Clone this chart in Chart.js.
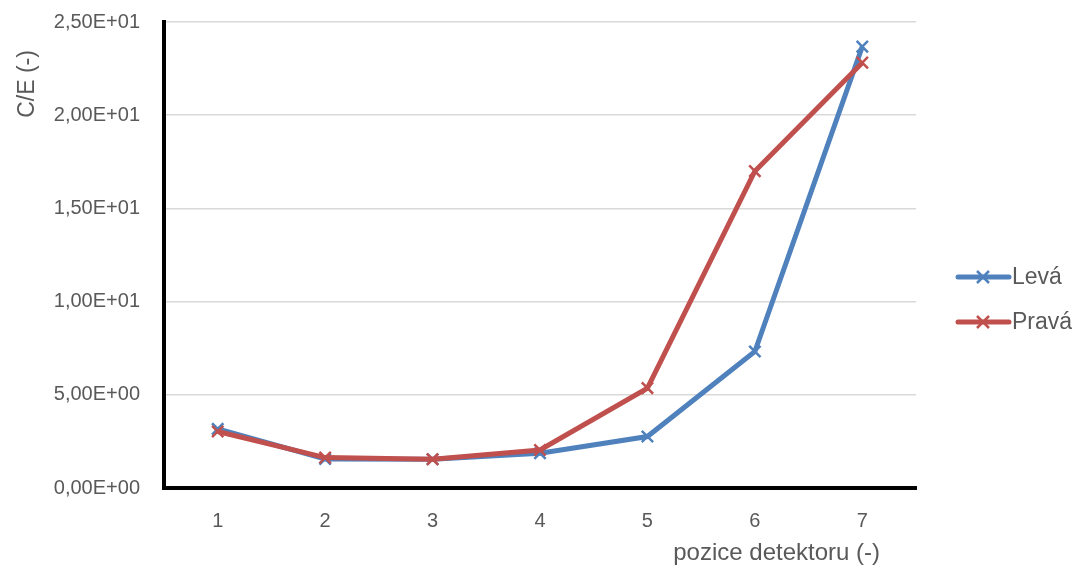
<!DOCTYPE html>
<html>
<head>
<meta charset="utf-8">
<script src="https://cdn.jsdelivr.net/npm/chart.js@4"></script>
<style>
html,body{margin:0;padding:0;background:#fff;}
#wrap{width:1072px;height:569px;position:relative;}
</style>
</head>
<body>
<div id="wrap"><canvas id="c"></canvas></div>
<script>
const categories = ['1','2','3','4','5','6','7'];
const leva = [3.17, 1.56, 1.54, 1.86, 2.76, 7.32, 23.68];
const prava = [3.03, 1.63, 1.54, 2.04, 5.36, 17.0, 22.82];
const seriesNames = ['Levá', 'Pravá'];
const xTitle = 'pozice detektoru (-)';
const yTitle = 'C/E (-)';
const yTicks = [0, 5, 10, 15, 20, 25];

const BLUE = '#4F81BD';
const RED = '#C0504D';
const TXT = '#595959';
const FONT = "'Liberation Sans', Arial, sans-serif";

function sci(v) {
  if (v === 0) return '0,00E+00';
  let e = Math.floor(Math.log10(Math.abs(v)));
  let m = v / Math.pow(10, e);
  if (Math.abs(m) >= 9.995) { m /= 10; e += 1; }
  const s = e < 0 ? '-' : '+';
  return m.toFixed(2).replace('.', ',') + 'E' + s + String(Math.abs(e)).padStart(2, '0');
}

const extras = {
  id: 'extras',
  afterDraw(chart) {
    const ctx = chart.ctx;
    ctx.save();
    ctx.fillStyle = TXT;
    ctx.font = '23px ' + FONT;
    ctx.save();
    ctx.translate(28, 84);
    ctx.rotate(-Math.PI / 2);
    ctx.textAlign = 'center';
    ctx.textBaseline = 'middle';
    ctx.fillText(yTitle, 0, 0);
    ctx.restore();
    ctx.textAlign = 'right';
    ctx.textBaseline = 'middle';
    ctx.font = '24px ' + FONT;
    ctx.fillText(xTitle, 880, 553);
    ctx.font = '23px ' + FONT;
    const items = chart.data.datasets;
    const ys = [277, 322];
    items.forEach((ds, i) => {
      const y = ys[i];
      ctx.strokeStyle = ds.borderColor;
      ctx.lineWidth = 5;
      ctx.lineCap = 'round';
      ctx.beginPath();
      ctx.moveTo(958, y);
      ctx.lineTo(1009, y);
      ctx.stroke();
      ctx.lineWidth = 2.5;
      ctx.lineCap = 'butt';
      const r = 6;
      ctx.beginPath();
      ctx.moveTo(983 - r, y - r); ctx.lineTo(983 + r, y + r);
      ctx.moveTo(983 - r, y + r); ctx.lineTo(983 + r, y - r);
      ctx.stroke();
      ctx.fillStyle = TXT;
      ctx.textAlign = 'left';
      ctx.fillText(ds.label, 1012, y + 1);
    });
    ctx.restore();
  }
};

new Chart(document.getElementById('c'), {
  type: 'line',
  data: {
    labels: categories,
    datasets: [
      {
        label: seriesNames[0], data: leva, borderColor: BLUE, backgroundColor: BLUE,
        borderWidth: 5, tension: 0, pointStyle: 'crossRot', pointRadius: 8,
        pointBorderWidth: 2.5, pointBorderColor: BLUE, order: 1
      },
      {
        label: seriesNames[1], data: prava, borderColor: RED, backgroundColor: RED,
        borderWidth: 5, tension: 0, pointStyle: 'crossRot', pointRadius: 8,
        pointBorderWidth: 2.5, pointBorderColor: RED, order: 0
      }
    ]
  },
  options: {
    responsive: true,
    maintainAspectRatio: false,
    animation: false,
    layout: { padding: { top: 22, right: 156, left: 0, bottom: 0 } },
    plugins: { legend: { display: false }, tooltip: { enabled: false } },
    scales: {
      x: {
        offset: true,
        grid: { display: false, drawTicks: false },
        border: { display: true, color: '#000', width: 4 },
        ticks: { color: TXT, font: { size: 20, family: FONT }, padding: 21 },
        afterFit(s) { s.height = 81; s.paddingLeft = 0; s.paddingRight = 0; }
      },
      y: {
        min: 0, max: 25,
        afterBuildTicks(s) { s.ticks = yTicks.map(v => ({ value: v })); },
        grid: { color: '#d9d9d9', lineWidth: 1.5, drawTicks: false },
        border: { display: true, color: '#000', width: 4 },
        ticks: { color: TXT, font: { size: 20, family: FONT }, padding: 24, callback: v => sci(v) },
        afterFit(s) { s.width = 164; s.paddingTop = 0; s.paddingBottom = 0; }
      }
    }
  },
  plugins: [extras]
});
</script>
</body>
</html>
